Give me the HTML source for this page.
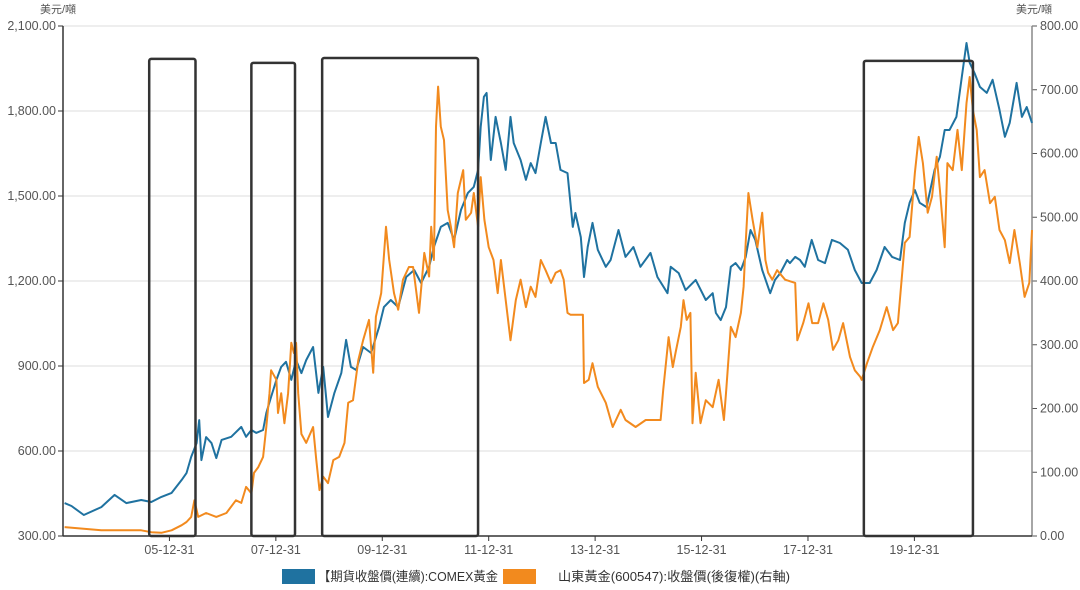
<!DOCTYPE html>
<html><head><meta charset="utf-8">
<style>
html,body{margin:0;padding:0;background:#fff;}
svg text{font-family:"Liberation Sans","Noto Sans CJK TC",sans-serif;}
</style></head>
<body>
<svg id="chart" width="1080" height="585" xmlns="http://www.w3.org/2000/svg">
<g id="grid"></g>
<g id="axes"></g>
<g id="series"></g>
<g id="boxes"></g>
<g id="legend"></g>
</svg>
<script>
const xTickYears = [2006, 2008, 2010, 2012, 2014, 2016, 2018, 2020];
const xTickLabels = ["05-12-31","07-12-31","09-12-31","11-12-31","13-12-31","15-12-31","17-12-31","19-12-31"];
const leftTicks = [300, 600, 900, 1200, 1500, 1800, 2100];
const leftTickLabels = ["300.00","600.00","900.00","1,200.00","1,500.00","1,800.00","2,100.00"];
const rightTicks = [0, 100, 200, 300, 400, 500, 600, 700, 800];
const rightTickLabels = ["0.00","100.00","200.00","300.00","400.00","500.00","600.00","700.00","800.00"];

const goldDates = [2004.03,2004.16,2004.39,2004.72,2004.97,2005.19,2005.47,2005.66,2005.85,2006.04,2006.23,2006.32,2006.41,2006.51,2006.56,2006.60,2006.69,2006.79,2006.88,2006.98,2007.16,2007.35,2007.44,2007.54,2007.63,2007.76,2007.82,2007.91,2008.01,2008.10,2008.19,2008.29,2008.38,2008.48,2008.57,2008.70,2008.80,2008.89,2008.98,2009.10,2009.23,2009.32,2009.41,2009.51,2009.64,2009.79,2009.94,2010.03,2010.16,2010.30,2010.45,2010.60,2010.73,2010.88,2010.97,2011.10,2011.23,2011.35,2011.48,2011.61,2011.72,2011.80,2011.85,2011.91,2011.96,2012.04,2012.13,2012.23,2012.32,2012.41,2012.47,2012.60,2012.70,2012.79,2012.88,2012.98,2013.07,2013.17,2013.26,2013.35,2013.48,2013.58,2013.63,2013.73,2013.79,2013.86,2013.95,2014.05,2014.20,2014.29,2014.44,2014.57,2014.72,2014.85,2015.04,2015.17,2015.36,2015.42,2015.57,2015.70,2015.89,2016.08,2016.21,2016.27,2016.36,2016.46,2016.55,2016.64,2016.74,2016.83,2016.92,2017.01,2017.14,2017.29,2017.38,2017.48,2017.61,2017.66,2017.76,2017.85,2017.94,2018.07,2018.19,2018.32,2018.45,2018.60,2018.75,2018.88,2019.01,2019.16,2019.29,2019.44,2019.58,2019.73,2019.82,2019.91,2020.01,2020.10,2020.23,2020.38,2020.48,2020.57,2020.66,2020.79,2020.89,2020.98,2021.04,2021.13,2021.23,2021.36,2021.47,2021.60,2021.70,2021.79,2021.92,2022.02,2022.11,2022.21];
const goldValues = [416,406,374,402,445,416,427,420,438,452,498,522,579,628,709,568,649,628,575,639,650,685,650,674,664,674,734,791,851,897,915,851,921,875,921,967,805,897,720,805,875,992,897,886,967,946,1038,1108,1133,1108,1214,1239,1193,1250,1320,1391,1405,1345,1451,1511,1532,1592,1744,1850,1864,1627,1779,1687,1592,1779,1687,1627,1557,1616,1581,1687,1779,1687,1687,1592,1581,1391,1440,1355,1214,1320,1405,1310,1250,1274,1380,1285,1320,1250,1299,1214,1157,1250,1228,1168,1204,1133,1157,1087,1062,1108,1250,1263,1239,1285,1380,1345,1239,1157,1204,1228,1274,1263,1285,1274,1250,1345,1274,1263,1345,1334,1310,1239,1193,1193,1239,1320,1285,1274,1405,1476,1521,1476,1461,1592,1638,1733,1733,1779,1920,2040,1970,1934,1885,1864,1910,1804,1709,1758,1899,1779,1814,1758];

const sdDates = [2004.03,2004.72,2005.47,2005.66,2005.85,2006.04,2006.23,2006.32,2006.41,2006.47,2006.54,2006.69,2006.88,2007.07,2007.25,2007.35,2007.44,2007.54,2007.59,2007.67,2007.76,2007.82,2007.88,2007.91,2008.01,2008.04,2008.10,2008.16,2008.23,2008.29,2008.34,2008.38,2008.42,2008.48,2008.57,2008.70,2008.76,2008.82,2008.89,2008.98,2009.08,2009.19,2009.29,2009.36,2009.45,2009.55,2009.64,2009.75,2009.83,2009.88,2009.98,2010.07,2010.13,2010.22,2010.30,2010.39,2010.50,2010.58,2010.69,2010.79,2010.88,2010.92,2010.97,2011.01,2011.05,2011.10,2011.16,2011.23,2011.29,2011.35,2011.42,2011.52,2011.57,2011.67,2011.72,2011.80,2011.85,2011.92,2012.00,2012.09,2012.17,2012.23,2012.32,2012.41,2012.51,2012.60,2012.70,2012.79,2012.88,2012.98,2013.07,2013.17,2013.26,2013.35,2013.41,2013.48,2013.54,2013.77,2013.79,2013.88,2013.95,2014.05,2014.20,2014.33,2014.48,2014.57,2014.76,2014.95,2015.23,2015.28,2015.38,2015.46,2015.51,2015.61,2015.66,2015.72,2015.79,2015.83,2015.89,2015.98,2016.08,2016.21,2016.32,2016.42,2016.46,2016.55,2016.64,2016.74,2016.79,2016.83,2016.88,2016.96,2017.05,2017.14,2017.20,2017.25,2017.33,2017.42,2017.57,2017.76,2017.80,2017.91,2018.01,2018.08,2018.19,2018.29,2018.38,2018.47,2018.57,2018.66,2018.79,2018.88,2018.98,2019.01,2019.11,2019.22,2019.35,2019.48,2019.60,2019.69,2019.82,2019.91,2020.01,2020.08,2020.16,2020.25,2020.33,2020.42,2020.48,2020.57,2020.62,2020.72,2020.81,2020.89,2020.98,2021.04,2021.10,2021.17,2021.23,2021.32,2021.42,2021.51,2021.60,2021.70,2021.79,2021.88,2021.98,2022.07,2022.16,2022.21];
const sdValues = [14,9,9,6,5,9,17,22,30,56,30,36,30,36,56,52,77,67,99,108,124,171,224,260,245,193,224,177,224,303,287,303,224,160,146,171,119,72,93,83,119,124,146,209,213,276,307,339,256,344,381,485,433,381,355,402,422,422,350,444,407,485,433,642,705,642,621,511,485,453,538,574,496,507,538,485,563,496,453,433,381,433,370,307,370,402,359,391,375,433,417,397,413,417,402,350,347,347,240,245,271,234,209,171,198,182,171,182,182,229,312,265,287,328,370,339,350,177,256,177,213,202,245,182,224,328,312,350,391,460,538,496,453,507,433,413,402,417,402,397,307,334,365,334,334,365,339,292,307,334,281,260,250,245,271,297,323,359,323,334,460,469,570,626,585,507,532,595,543,453,585,574,637,574,679,720,668,637,563,574,522,532,480,464,428,480,428,375,397,480];

const boxStarts = [2005.62, 2007.54, 2008.87, 2019.05];
const boxEnds = [2006.49, 2008.36, 2011.80, 2021.10];
const boxTops = [1984, 1970, 1987, 1977];

const PL=63, PR=1032, PT=26, PB=536;
const X0=2004.0, X1=2022.21;
function xS(t){return PL+(t-X0)/(X1-X0)*(PR-PL);}
function yL(v){return PB-(v-300)/(2100-300)*(PB-PT);}
function yR(v){return PB-v/800*(PB-PT);}
const NS="http://www.w3.org/2000/svg";
function mk(tag,attrs,parent){const e=document.createElementNS(NS,tag);for(const k in attrs)e.setAttribute(k,attrs[k]);parent.appendChild(e);return e;}

const grid=document.getElementById('grid'), axes=document.getElementById('axes');
leftTicks.forEach((v,i)=>{
  const y=yL(v);
  if(i>0){const g=mk('line',{x1:PL,x2:PR,y1:y,y2:y,stroke:'#dcdcdc','stroke-width':1},grid);
  
  }
  const tk=mk('line',{x1:PL-5,x2:PL,y1:y,y2:y,stroke:'#333','stroke-width':1},axes);
  
  
  const t=mk('text',{x:PL-7,y:y+4,'text-anchor':'end','font-size':12.5,fill:'#555'},axes);
  t.textContent=leftTickLabels[i];
  
  
});
rightTicks.forEach((v,i)=>{
  const y=yR(v);
  const tk=mk('line',{x1:PR,x2:PR+5,y1:y,y2:y,stroke:'#555','stroke-width':1},axes);
  
  
  const t=mk('text',{x:PR+8,y:y+4,'text-anchor':'start','font-size':12.5,fill:'#555'},axes);
  t.textContent=rightTickLabels[i];
  
  
});
xTickYears.forEach((yr,i)=>{
  const x=xS(yr);
  const tk=mk('line',{x1:x,x2:x,y1:PB,y2:PB+5,stroke:'#333','stroke-width':1},axes);
  
  
  const t=mk('text',{x:x,y:PB+18,'text-anchor':'middle','font-size':12.5,fill:'#555'},axes);
  t.textContent=xTickLabels[i];
  
  
});
const la=mk('line',{x1:PL,x2:PL,y1:PT,y2:PB,stroke:'#333','stroke-width':1.5},axes);


const ra=mk('line',{x1:PR,x2:PR,y1:PT,y2:PB,stroke:'#888','stroke-width':1.5},axes);


const ba=mk('line',{x1:PL,x2:PR,y1:PB,y2:PB,stroke:'#333','stroke-width':1.5},axes);


const ul=mk('text',{x:40,y:13,'font-size':11,fill:'#555'},axes);
ul.textContent='美元/噸';


const ur=mk('text',{x:1016,y:13,'font-size':11,fill:'#555'},axes);
ur.textContent='美元/噸';



const series=document.getElementById('series');
function path(dates,vals,ys){return dates.map((d,i)=>(i?'L':'M')+xS(d).toFixed(1)+','+ys(vals[i]).toFixed(1)).join(' ');}
const pg=mk('path',{d:path(goldDates,goldValues,yL),fill:'none',stroke:'#1f72a0','stroke-width':2,'stroke-linejoin':'round'},series);


const ps=mk('path',{d:path(sdDates,sdValues,yR),fill:'none',stroke:'#f28a1e','stroke-width':2,'stroke-linejoin':'round'},series);



const boxes=document.getElementById('boxes');
boxStarts.forEach((s,i)=>{
  const x1=xS(s), x2=xS(boxEnds[i]), yt=yL(boxTops[i]);
  const r=mk('rect',{x:x1,y:yt,width:x2-x1,height:PB-yt,rx:2,fill:'none',stroke:'#333','stroke-width':2.5},boxes);
  
  
});

const lg=document.getElementById('legend');
const s1=mk('rect',{x:282,y:569,width:33,height:15,fill:'#1f72a0'},lg);


const t1=mk('text',{x:318,y:581,'font-size':13,fill:'#333',textLength:180,lengthAdjust:'spacingAndGlyphs'},lg);
t1.textContent='【期貨收盤價(連續):COMEX黃金';


const s2=mk('rect',{x:503,y:569,width:33,height:15,fill:'#f28a1e'},lg);


const t2=mk('text',{x:558,y:581,'font-size':13,fill:'#333',textLength:232,lengthAdjust:'spacingAndGlyphs'},lg);
t2.textContent='山東黃金(600547):收盤價(後復權)(右軸)';


</script>
</body></html>
